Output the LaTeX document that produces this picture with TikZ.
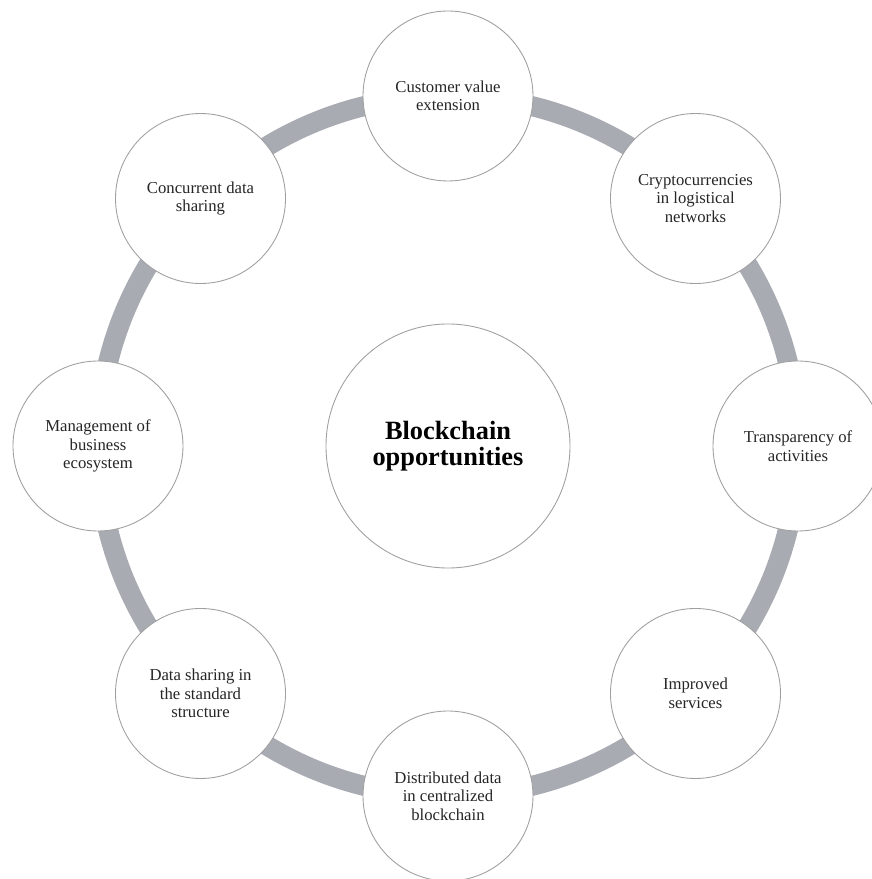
\documentclass[tikz,border=0pt]{standalone}
\usepackage{fontspec}
\setmainfont{Liberation Serif}
\definecolor{ringgray}{HTML}{A9ABB3}
\definecolor{edgegray}{HTML}{A0A0A0}

\begin{document}
\begin{tikzpicture}[
    ring/.style={draw=ringgray, line width=0.4cm},
    bubble/.style={circle, draw=edgegray, line width=0.5pt, fill=white,
      minimum size=3.4cm, inner sep=0pt, align=center,
      font=\fontsize{9.5}{10.5}\selectfont, text=black!85},
    hubnode/.style={circle, draw=edgegray, line width=0.5pt, fill=white,
      minimum size=4.88cm, inner sep=0pt, align=center,
      font=\fontsize{15}{14.5}\selectfont\bfseries}
  ]

  % Frame of the picture
  \useasboundingbox (-8.96,-8.66) rectangle (8.48,8.92);

  % Grey ring behind all circles
  \coordinate (mid) at (0,0);
  \draw[ring] (mid) circle (7cm);

  % Central circle
  \node[hubnode] (hub) at (mid) {Blockchain\\opportunities};

  % Outer circles, clockwise from the top
  \node[bubble] (value)    at (90:7)  {Customer value\\extension};
  \node[bubble] (crypto)   at (45:7)  {Cryptocurrencies\\in logistical\\networks};
  \node[bubble] (transp)   at (0:7)   {Transparency of\\activities};
  \node[bubble] (services) at (-45:7) {Improved\\services};
  \node[bubble] (distrib)  at (-90:7) {Distributed data\\in centralized\\blockchain};
  \node[bubble] (standard) at (-135:7) {Data sharing in\\the standard\\structure};
  \node[bubble] (ecosys)   at (180:7) {Management of\\business\\ecosystem};
  \node[bubble] (concur)   at (135:7) {Concurrent data\\sharing};

\end{tikzpicture}
\end{document}
